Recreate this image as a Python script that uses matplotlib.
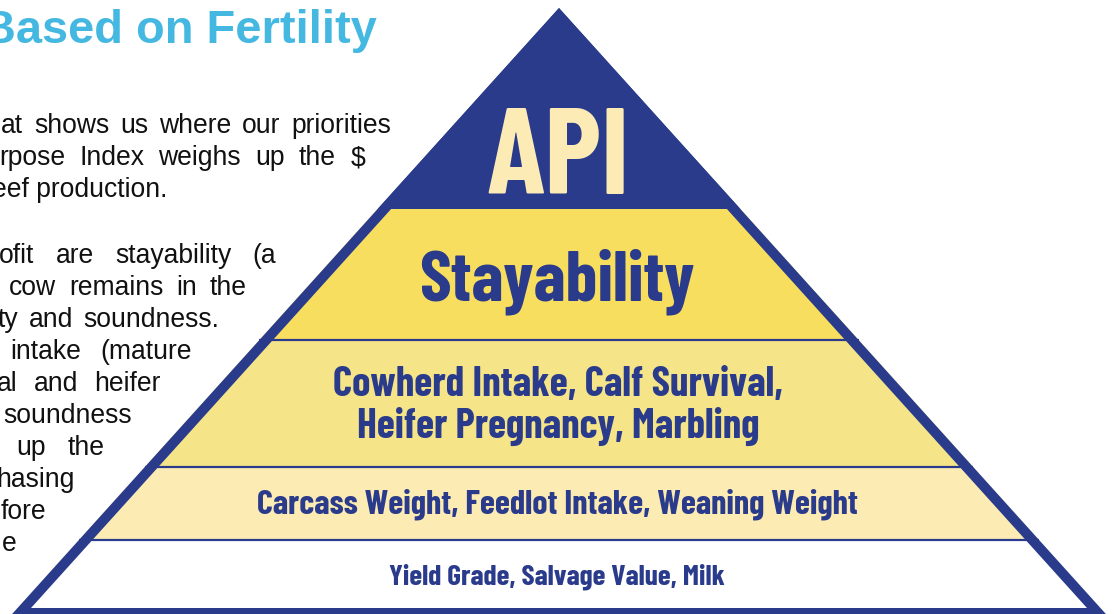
import matplotlib
matplotlib.use('Agg')
import math
import matplotlib.pyplot as plt
from matplotlib.patches import Polygon
from matplotlib.textpath import TextPath
from matplotlib.font_manager import FontProperties, findfont

W, H, DPI = 1114, 614, 100

# ---------------- data ----------------
title_text = "Based on Fertility"
para1_lines = ["at shows us where our priorities",
               "rpose Index weighs up the $",
               "eef production."]
para2_lines = ["ofit are stayability (a",
               "cow remains in the",
               "ty and soundness.",
               "intake (mature",
               "al and heifer",
               "soundness",
               "up the",
               "hasing",
               "fore",
               "e"]
tier_labels = ["API",
               "Stayability",
               "Cowherd Intake, Calf Survival,",
               "Heifer Pregnancy, Marbling",
               "Carcass Weight, Feedlot Intake, Weaning Weight",
               "Yield Grade, Salvage Value, Milk"]
tier_colors = ["#2A3B8C", "#F8DE5F", "#F5E588", "#FCEBB3", "#FFFFFF"]

NAVY = "#2A3B8C"
API_TXT = "#FDEBB5"
TITLE_BLUE = "#45B8E1"
BODY = ['Liberation Sans', 'DejaVu Sans']

# ---------------- pick a condensed bold face whose proportions fit ----------------
candidates = ['PT Sans Narrow', 'Roboto Condensed', 'Open Sans Condensed',
              'Fira Sans Condensed', 'Encode Sans Condensed', 'IBM Plex Sans Condensed',
              'Barlow Condensed', 'Pragati Narrow', 'Asap Condensed', 'Saira Condensed']
# (label, ink width px, cap height px) measured on the reference
targets = [("API", 136, 86), ("Stayability", 273, 51), ("Cowherd Intake, Calf Survival,", 447, 27)]


def ink_ext(s, fp):
    return TextPath((0, 0), s, size=100, prop=fp).get_extents()


best, best_score = None, 1e9
for name in candidates:
    fp = FontProperties(family=name, weight='bold')
    try:
        findfont(fp, fallback_to_default=False)
    except Exception:
        continue
    try:
        caph = ink_ext("H", fp).height
        score = 0.0
        for s, wpx, hpx in targets:
            r = caph / ink_ext(s, fp).width
            score += abs(math.log(r / (hpx / wpx)))
    except Exception:
        continue
    if score < best_score:
        best, best_score = name, score
COND_FP = FontProperties(family=best or 'DejaVu Sans', weight='bold')

# ---------------- figure ----------------
fig = plt.figure(figsize=(W / DPI, H / DPI), dpi=DPI)
ax = fig.add_axes([0, 0, 1, 1])
ax.set_xlim(0, W)
ax.set_ylim(H, 0)
ax.axis('off')
renderer = fig.canvas.get_renderer()


def px2pt(px):
    return px * 72.0 / DPI


def text_width(t):
    return t.get_window_extent(renderer).width


# ---------------- pyramid ----------------
APEX_X, APEX_Y = 559.0, 8.0
K = 0.9025          # horizontal run per vertical pixel on each side
bounds = [APEX_Y, 209, 340, 467, 540, 620]


def edge_x(y):
    return APEX_X - K * (y - APEX_Y), APEX_X + K * (y - APEX_Y)


for i, col in enumerate(tier_colors):
    y0, y1 = bounds[i], bounds[i + 1]
    l0, r0 = edge_x(y0)
    l1, r1 = edge_x(y1)
    ax.add_patch(Polygon([(l0, y0), (r0, y0), (r1, y1), (l1, y1)],
                         closed=True, facecolor=col, edgecolor='none', zorder=1))

for yb in bounds[2:5]:
    l, r = edge_x(yb)
    ax.plot([l, r], [yb, yb], color=NAVY, lw=px2pt(2.2), zorder=2,
            solid_capstyle='butt')

lw_px = 10.0
base_y = 613.0
half = K * (base_y - 15.5)
ax.add_patch(Polygon([(APEX_X, 15.5), (APEX_X + half, base_y), (APEX_X - half, base_y)],
                     closed=True, fill=False, edgecolor=NAVY, lw=px2pt(lw_px),
                     joinstyle='miter', zorder=3))


# ---------------- pyramid texts ----------------
def fit_text(s, xc, y_base, width_px, color):
    ext = ink_ext(s, COND_FP)
    px_size = 100.0 * width_px / ext.width
    scale = px_size / 100.0
    x_left = xc - (ext.x0 + ext.x1) / 2.0 * scale
    ax.text(x_left, y_base, s, ha='left', va='baseline', color=color,
            fontproperties=COND_FP, fontsize=px2pt(px_size), zorder=5)


CX = 558.0
fit_text(tier_labels[0], 556, 194, 136, API_TXT)
fit_text(tier_labels[1], CX, 300, 273, NAVY)
fit_text(tier_labels[2], CX, 396, 447, NAVY)
fit_text(tier_labels[3], CX, 438, 399, NAVY)
fit_text(tier_labels[4], 557.5, 514, 599, NAVY)
fit_text(tier_labels[5], 557.5, 585, 335, NAVY)

# ---------------- left column ----------------
ax.text(377, 43, title_text, ha='right', va='baseline', color=TITLE_BLUE,
        family=BODY, weight='bold', fontsize=px2pt(47), zorder=5)

BODY_PT = px2pt(26.5)


def justified(s, left, right, y):
    words = s.split()
    objs = [ax.text(0, y, w, ha='left', va='baseline', color='#111111',
                    family=BODY, fontsize=BODY_PT, zorder=5) for w in words]
    widths = [text_width(o) for o in objs]
    if len(words) == 1:
        objs[0].set_x(right - widths[0])
        return
    gap = (right - left - sum(widths)) / (len(words) - 1)
    x = left
    for o, w in zip(objs, widths):
        o.set_x(x)
        x += w + gap


def plain_right(s, right, y):
    ax.text(right, y, s, ha='right', va='baseline', color='#111111',
            family=BODY, fontsize=BODY_PT, zorder=5)


p1_y = [133, 165, 197]
justified(para1_lines[0], 1, 391, p1_y[0])
justified(para1_lines[1], -1, 365, p1_y[1])
plain_right(para1_lines[2], 167, p1_y[2])

p2_y = [263 + 32 * i for i in range(10)]
p2_left = [-1, 9, -2, 10, -3, None, 16, None, None, None]
p2_right = [276, 247, 219, 192, 161, 132, 105, 75, 46, 17]
for s, l, r, y in zip(para2_lines, p2_left, p2_right, p2_y):
    if l is None:
        plain_right(s, r, y)
    else:
        justified(s, l, r, y)

fig.savefig('out.png', dpi=DPI)
